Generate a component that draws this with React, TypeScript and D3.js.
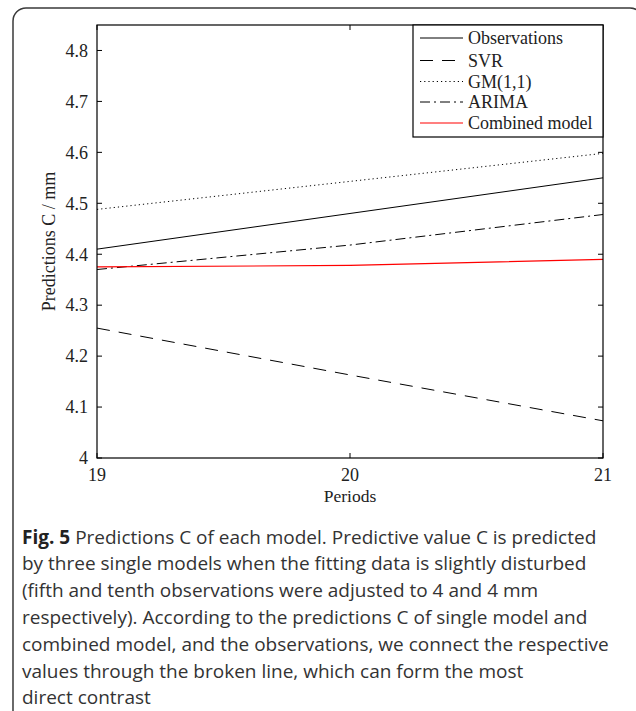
import React from 'react'
import * as d3 from 'd3'

const periods = [19, 20, 21]
const observations = [4.41, 4.48, 4.55]
const svr = [4.255, 4.163, 4.073]
const gm11 = [4.488, 4.543, 4.598]
const arima = [4.37, 4.418, 4.478]
const combined = [4.375, 4.378, 4.39]

const yTicks = [4, 4.1, 4.2, 4.3, 4.4, 4.5, 4.6, 4.7, 4.8]
const xTicks = [19, 20, 21]

const seriesNames = ['Observations', 'SVR', 'GM(1,1)', 'ARIMA', 'Combined model']

const captionLines = [
  'Predictions C of each model. Predictive value C is predicted',
  'by three single models when the fitting data is slightly disturbed',
  '(fifth and tenth observations were adjusted to 4 and 4 mm',
  'respectively). According to the predictions C of single model and',
  'combined model, and the observations, we connect the respective',
  'values through the broken line, which can form the most',
  'direct contrast'
]

const W = 636
const H = 711
const plot = { left: 97, right: 603, top: 25, bottom: 458 }

const styles = [
  { stroke: '#000', dash: null, width: 1 },
  { stroke: '#000', dash: '13,9', width: 1 },
  { stroke: '#000', dash: '1.2,3', width: 1 },
  { stroke: '#000', dash: '10,4,2,4', width: 1 },
  { stroke: '#ff0000', dash: null, width: 1.2 }
]

const serif = '"Liberation Serif", "Times New Roman", serif'
const sans = '"Open Sans", "Noto Sans", sans-serif'
const fs = 18

export default function App () {
  const x = d3.scaleLinear().domain([19, 21]).range([plot.left, plot.right])
  const y = d3.scaleLinear().domain([4, 4.85]).range([plot.bottom, plot.top])
  const allSeries = [observations, svr, gm11, arima, combined]
  const line = d3.line<number>()
    .x((d, i) => x(periods[i]))
    .y(d => y(d))

  const tick = 5
  const leg = { left: 413, top: plot.top, bottom: 137 }
  const legRows = [38, 60.5, 81.5, 102, 123]

  return (
    <svg width={W} height={H} style={{ display: 'block', position: 'absolute', left: 0, top: 0 }}>
      <rect x={0} y={0} width={W} height={H} fill='#fff' />
      {/* outer frame */}
      <rect x={13} y={8} width={630} height={760} rx={13} ry={13}
        fill='none' stroke='#3a3a3a' strokeWidth={1.5} />

      <defs>
        <clipPath id='clip'>
          <rect x={plot.left} y={plot.top} width={plot.right - plot.left} height={plot.bottom - plot.top} />
        </clipPath>
      </defs>
      {/* series */}
      <g clipPath='url(#clip)'>
        {allSeries.map((s, i) => (
          <path key={i} d={line(s) || ''} fill='none' stroke={styles[i].stroke}
            strokeWidth={styles[i].width} strokeDasharray={styles[i].dash || undefined} />
        ))}
      </g>

      {/* axes box */}
      <rect x={plot.left} y={plot.top} width={plot.right - plot.left} height={plot.bottom - plot.top}
        fill='none' stroke='#000' strokeWidth={1.2} />

      {/* y ticks */}
      {yTicks.map(t => (
        <g key={t}>
          <line x1={plot.left} x2={plot.left + tick} y1={y(t)} y2={y(t)} stroke='#000' />
          <line x1={plot.right} x2={plot.right - tick} y1={y(t)} y2={y(t)} stroke='#000' />
          <text x={plot.left - 9} y={y(t)} dy='0.35em' textAnchor='end'
            fontFamily={serif} fontSize={fs} fill='#222'>{d3.format('')(t)}</text>
        </g>
      ))}

      {/* x ticks */}
      {xTicks.map(t => (
        <g key={t}>
          <line x1={x(t)} x2={x(t)} y1={plot.bottom} y2={plot.bottom - tick} stroke='#000' />
          <line x1={x(t)} x2={x(t)} y1={plot.top} y2={plot.top + tick} stroke='#000' />
          <text x={x(t)} y={plot.bottom + 17} dy='0.35em' textAnchor='middle'
            fontFamily={serif} fontSize={fs} fill='#222'>{t}</text>
        </g>
      ))}

      <text x={(plot.left + plot.right) / 2} y={496} dy='0.35em' textAnchor='middle'
        fontFamily={serif} fontSize={fs - 0.5} fill='#222'>Periods</text>
      <text transform={`translate(49,${(plot.top + plot.bottom) / 2}) rotate(-90)`} dy='0.35em'
        textAnchor='middle' fontFamily={serif} fontSize={fs} fill='#222'>Predictions C / mm</text>

      {/* legend */}
      <rect x={leg.left} y={leg.top} width={plot.right - leg.left} height={leg.bottom - leg.top}
        fill='#fff' stroke='#000' strokeWidth={1.2} />
      {seriesNames.map((n, i) => (
        <g key={n}>
          <line x1={420} x2={463} y1={legRows[i]} y2={legRows[i]} stroke={styles[i].stroke}
            strokeWidth={styles[i].width} strokeDasharray={styles[i].dash || undefined} />
          <text x={468} y={legRows[i]} dy='0.35em' fontFamily={serif} fontSize={fs} fill='#222'>{n}</text>
        </g>
      ))}

      {/* caption */}
      {captionLines.map((l, i) => (
        <text key={i} x={22} y={537 + i * 26.8} dy='0.35em' fontFamily={sans} fontSize={19}
          fill='#333'>
          {i === 0 && <tspan fontWeight='bold' fill='#222'>Fig. 5 </tspan>}
          {l}
        </text>
      ))}
    </svg>
  )
}
